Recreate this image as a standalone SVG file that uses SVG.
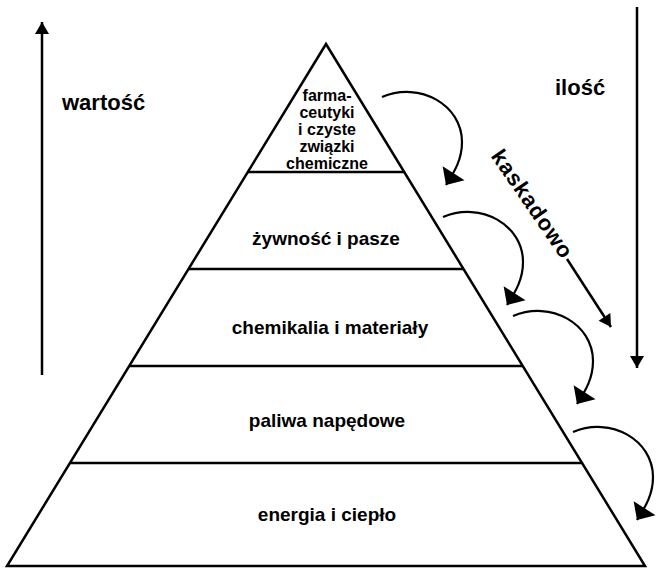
<svg xmlns="http://www.w3.org/2000/svg" width="667" height="575" viewBox="0 0 667 575">
  <style>
    .lbl { font-family: "Liberation Sans", Arial, sans-serif; font-weight: bold; fill: #000; }
    .tier { font-size: 19px; text-anchor: middle; }
    .top { font-size: 16px; text-anchor: middle; }
    .axis { font-size: 22px; }
    .edge { fill: none; stroke: #000; stroke-width: 2.5; }
    .curve { fill: none; stroke: #000; stroke-width: 2.2; marker-end: url(#bighead); }
    .straight { fill: none; stroke: #000; stroke-width: 2.5; marker-end: url(#head); }
  </style>
  <defs>
    <marker id="head" markerUnits="userSpaceOnUse" viewBox="-13 -8 14 16" refX="0" refY="0" markerWidth="14" markerHeight="16" orient="auto">
      <path d="M0,0 L-12,-7 L-12,7 Z" fill="#000"/>
    </marker>
    <marker id="bighead" markerUnits="userSpaceOnUse" viewBox="-15 -14 16 28" refX="0" refY="0" markerWidth="16" markerHeight="28" orient="auto">
      <path d="M0,0 L-14,-13 L-14,13 Z" fill="#000"/>
    </marker>
  </defs>
  <rect width="667" height="575" fill="#fff"/>

  <g id="pyramid">
    <polygon class="edge" points="326,44 7,566 645,566" stroke-linejoin="miter"/>
    <line class="edge" x1="247.8" y1="172" x2="404.2" y2="172"/>
    <line class="edge" x1="188.5" y1="269" x2="463.5" y2="269"/>
    <line class="edge" x1="129.2" y1="366" x2="522.8" y2="366"/>
    <line class="edge" x1="69.9" y1="463" x2="582.1" y2="463"/>
  </g>

  <g id="tier-farmaceutyki">
    <text class="lbl top" x="327" y="101">farma-</text>
    <text class="lbl top" x="327" y="118">ceutyki</text>
    <text class="lbl top" x="327" y="135">i czyste</text>
    <text class="lbl top" x="327" y="152">związki</text>
    <text class="lbl top" x="327" y="169">chemiczne</text>
  </g>
  <g id="tier-zywnosc">
    <text class="lbl tier" x="326" y="245">żywność i pasze</text>
  </g>
  <g id="tier-chemikalia">
    <text class="lbl tier" x="330" y="334">chemikalia i materiały</text>
  </g>
  <g id="tier-paliwa">
    <text class="lbl tier" x="327" y="427">paliwa napędowe</text>
  </g>
  <g id="tier-energia">
    <text class="lbl tier" x="327" y="521">energia i ciepło</text>
  </g>

  <g id="label-wartosc">
    <text class="lbl axis" x="62" y="110">wartość</text>
  </g>
  <g id="label-ilosc">
    <text class="lbl axis" x="555" y="95">ilość</text>
  </g>
  <g id="label-kaskadowo">
    <text class="lbl axis" text-anchor="middle" textLength="126" transform="translate(526,208) rotate(55.5)">kaskadowo</text>
  </g>

  <g id="connectors">
    <line class="straight" x1="42" y1="375" x2="42" y2="22"/>
    <line class="straight" x1="637" y1="7" x2="637" y2="368"/>
    <line class="straight" x1="567" y1="259" x2="611" y2="327"/>
    <path class="curve" transform="translate(382,97)" d="M0,0 C38,-16 80,8 80,45 C80,62 73,74 64,88"/>
    <path class="curve" transform="translate(443,217)" d="M0,0 C38,-16 80,8 80,45 C80,62 73,74 64,88"/>
    <path class="curve" transform="translate(513,316)" d="M0,0 C38,-16 80,8 80,45 C80,62 73,74 64,88"/>
    <path class="curve" transform="translate(573,432)" d="M0,0 C38,-16 80,8 80,45 C80,62 73,74 64,88"/>
  </g>
</svg>
